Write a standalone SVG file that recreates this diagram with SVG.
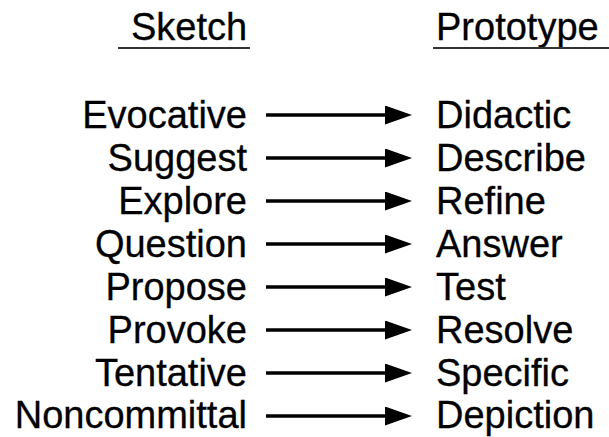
<svg xmlns="http://www.w3.org/2000/svg" width="609" height="437" viewBox="0 0 609 437">
  <style>
    text { font-family: "Liberation Sans", Arial, sans-serif; font-size: 38px; fill: #000; stroke: #000; stroke-width: 0.3; }
    .left { text-anchor: end; }
    .rule { stroke: #333; stroke-width: 2; }
    .arrow { stroke: #000; stroke-width: 3.5; fill: none; marker-end: url(#head); }
  </style>
  <defs>
    <!-- solid triangular arrowhead, sized in user units -->
    <marker id="head" markerUnits="userSpaceOnUse" markerWidth="27" markerHeight="19" refX="1" refY="9.5" orient="auto">
      <path d="M0,0 L27,9.5 L0,19 Z" fill="#000"/>
    </marker>
  </defs>

  <g id="header-sketch">
    <text x="131" y="40">Sketch</text>
    <line class="rule" x1="118" y1="48" x2="250" y2="48"/>
  </g>
  <g id="header-prototype">
    <text x="436" y="40">Prototype</text>
    <line class="rule" x1="433" y1="48" x2="609" y2="48"/>
  </g>

  <g id="sketch-terms">
    <text id="evocative" class="left" x="247" y="128">Evocative</text>
    <text id="suggest" class="left" x="247" y="171">Suggest</text>
    <text id="explore" class="left" x="247" y="214">Explore</text>
    <text id="question" class="left" x="247" y="257">Question</text>
    <text id="propose" class="left" x="247" y="300">Propose</text>
    <text id="provoke" class="left" x="247" y="343">Provoke</text>
    <text id="tentative" class="left" x="247" y="386">Tentative</text>
    <text id="noncommittal" class="left" x="247" y="428">Noncommittal</text>
  </g>

  <g id="prototype-terms">
    <text id="didactic" x="436" y="128">Didactic</text>
    <text id="describe" x="436" y="171">Describe</text>
    <text id="refine" x="436" y="214">Refine</text>
    <text id="answer" x="436" y="257">Answer</text>
    <text id="test" x="436" y="300">Test</text>
    <text id="resolve" x="436" y="343">Resolve</text>
    <text id="specific" x="436" y="386">Specific</text>
    <text id="depiction" x="436" y="428">Depiction</text>
  </g>

  <g id="connectors">
    <line class="arrow" x1="266" y1="115" x2="386" y2="115"/>
    <line class="arrow" x1="266" y1="158" x2="386" y2="158"/>
    <line class="arrow" x1="266" y1="201" x2="386" y2="201"/>
    <line class="arrow" x1="266" y1="244" x2="386" y2="244"/>
    <line class="arrow" x1="266" y1="287" x2="386" y2="287"/>
    <line class="arrow" x1="266" y1="330" x2="386" y2="330"/>
    <line class="arrow" x1="266" y1="373" x2="386" y2="373"/>
    <line class="arrow" x1="266" y1="416" x2="386" y2="416"/>
  </g>
</svg>
